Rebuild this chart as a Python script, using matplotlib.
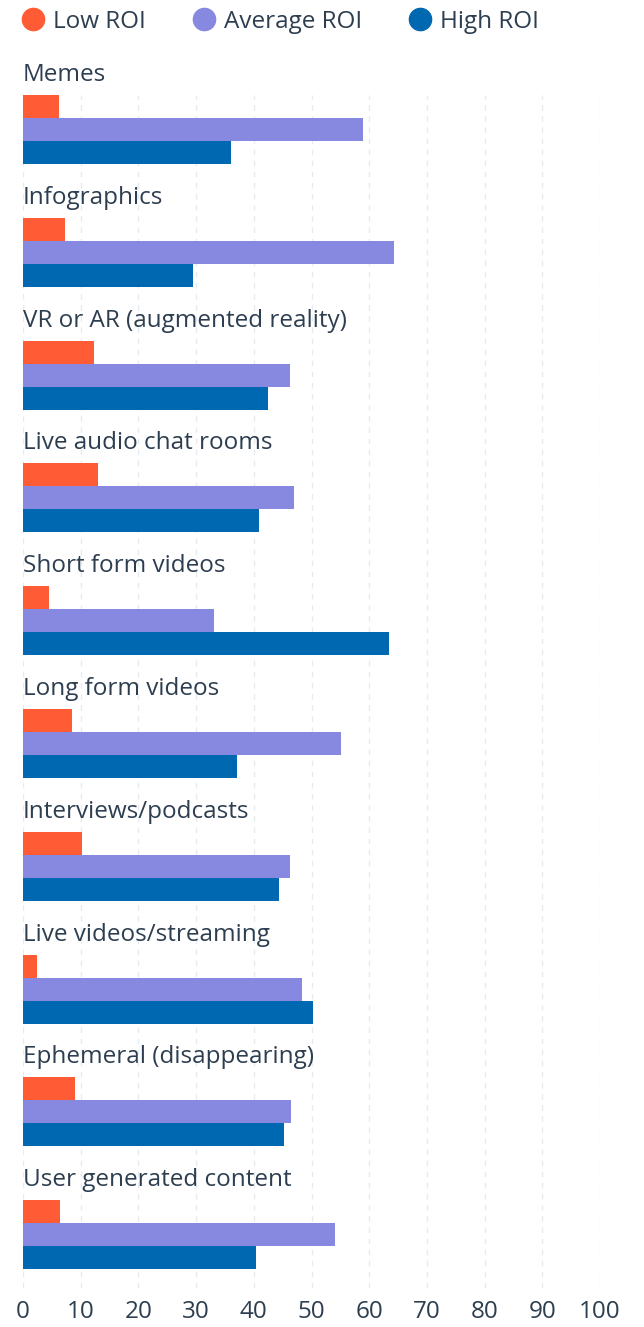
import matplotlib
matplotlib.use("Agg")
import matplotlib.pyplot as plt
from matplotlib.lines import Line2D
import numpy as np

categories = ["Memes", "Infographics", "VR or AR (augmented reality)", "Live audio chat rooms",
              "Short form videos", "Long form videos", "Interviews/podcasts",
              "Live videos/streaming", "Ephemeral (disappearing)", "User generated content"]
low_roi = [6.2, 7.3, 12.3, 13.0, 4.5, 8.5, 10.2, 2.4, 9.0, 6.4]
avg_roi = [58.9, 64.3, 46.3, 47.0, 33.1, 55.1, 46.3, 48.4, 46.4, 54.1]
high_roi = [36.1, 29.5, 42.5, 40.9, 63.4, 37.1, 44.4, 50.3, 45.2, 40.4]
series_names = ["Low ROI", "Average ROI", "High ROI"]
colors = ["#FF5C35", "#8788DF", "#0068B1"]
xticks = [0, 10, 20, 30, 40, 50, 60, 70, 80, 90, 100]

plt.rcParams['font.family'] = ['Open Sans', 'DejaVu Sans']
TEXT = "#2D3E50"
FS = 17.5

W, H = 644, 1327
fig = plt.figure(figsize=(W / 100, H / 100), dpi=100)
top_px, bot_px = 95, 1288
left_px, right_px = 23, 600
ax = fig.add_axes([left_px / W, 1 - bot_px / H, (right_px - left_px) / W, (bot_px - top_px) / H])

spacing = 122.8  # px per group
bh = 23 / spacing
y0 = np.arange(len(categories))
for k, (vals, c) in enumerate(zip([low_roi, avg_roi, high_roi], colors)):
    ax.barh(y0 + bh * (k + 0.5), vals, height=bh, color=c, zorder=3, linewidth=0)

for i, cat in enumerate(categories):
    ax.text(0, i - 20 / spacing, cat, ha="left", va="center", fontsize=FS, color=TEXT,
            clip_on=False)

ax.set_xlim(0, 100)
ax.set_ylim((bot_px - top_px) / spacing, 0)
ax.set_xticks(xticks)
ax.set_xticklabels([str(t) for t in xticks], fontsize=FS, color=TEXT)
ax.set_yticks([])
ax.tick_params(axis="x", length=0, pad=9)
ax.grid(axis="x", color="#E6EBF1", linestyle=(0, (4, 4)), linewidth=1, zorder=0)
for s in ax.spines.values():
    s.set_visible(False)

handles = [Line2D([], [], marker="o", linestyle="none", markersize=16, color=c) for c in colors]
fig.legend(handles, series_names, loc="upper left", bbox_to_anchor=(11 / W, 1 - 0 / H),
           ncol=3, frameon=False, fontsize=FS, handlelength=1.0, handletextpad=0.32,
           columnspacing=1.9, labelcolor=TEXT, borderaxespad=0)

fig.savefig("out.png", dpi=100)
